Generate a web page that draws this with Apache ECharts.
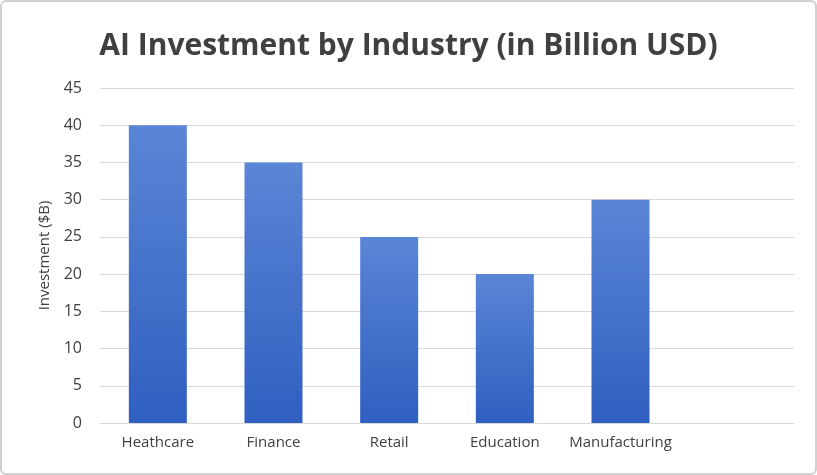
<!DOCTYPE html>
<html><head><meta charset="utf-8">
<script src="https://cdn.jsdelivr.net/npm/echarts@6/dist/echarts.min.js"></script>
<style>html,body{margin:0;padding:0;background:#fff}
#c{width:813px;height:471px;border:2px solid #d0d0d0;border-radius:6px;}</style>
</head><body><div id="c"></div>
<script>
const categories = ['Heathcare','Finance','Retail','Education','Manufacturing',''];
const investment = [40,35,25,20,30,null];
const chart = echarts.init(document.getElementById('c'));
chart.setOption({
  animation:false,
  title:{text:'AI Investment by Industry (in Billion USD)',left:'center',top:24,
    textStyle:{fontFamily:'Open Sans',fontSize:30,fontWeight:'bold',color:'#404040'}},
  grid:{left:98,right:21,top:86,bottom:50},
  xAxis:{type:'category',data:categories,
    axisLine:{lineStyle:{color:'#d9d9d9'}},axisTick:{show:false},
    axisLabel:{interval:0,color:'#404040',fontSize:15,fontFamily:'Open Sans',margin:12}},
  yAxis:{type:'value',min:0,max:45,interval:5,
    name:'Investment ($B)',nameLocation:'middle',nameGap:48,nameRotate:90,
    nameTextStyle:{color:'#404040',fontSize:15,fontFamily:'Open Sans'},
    axisLabel:{color:'#404040',fontSize:16,fontFamily:'Open Sans',margin:18},
    splitLine:{lineStyle:{color:'#d9d9d9'}}},
  series:[{type:'bar',data:investment,barWidth:58,
    itemStyle:{color:new echarts.graphic.LinearGradient(0,0,0,1,[
      {offset:0,color:'#5a86d6'},{offset:1,color:'#2f5fc0'}])}}]
});
</script></body></html>
